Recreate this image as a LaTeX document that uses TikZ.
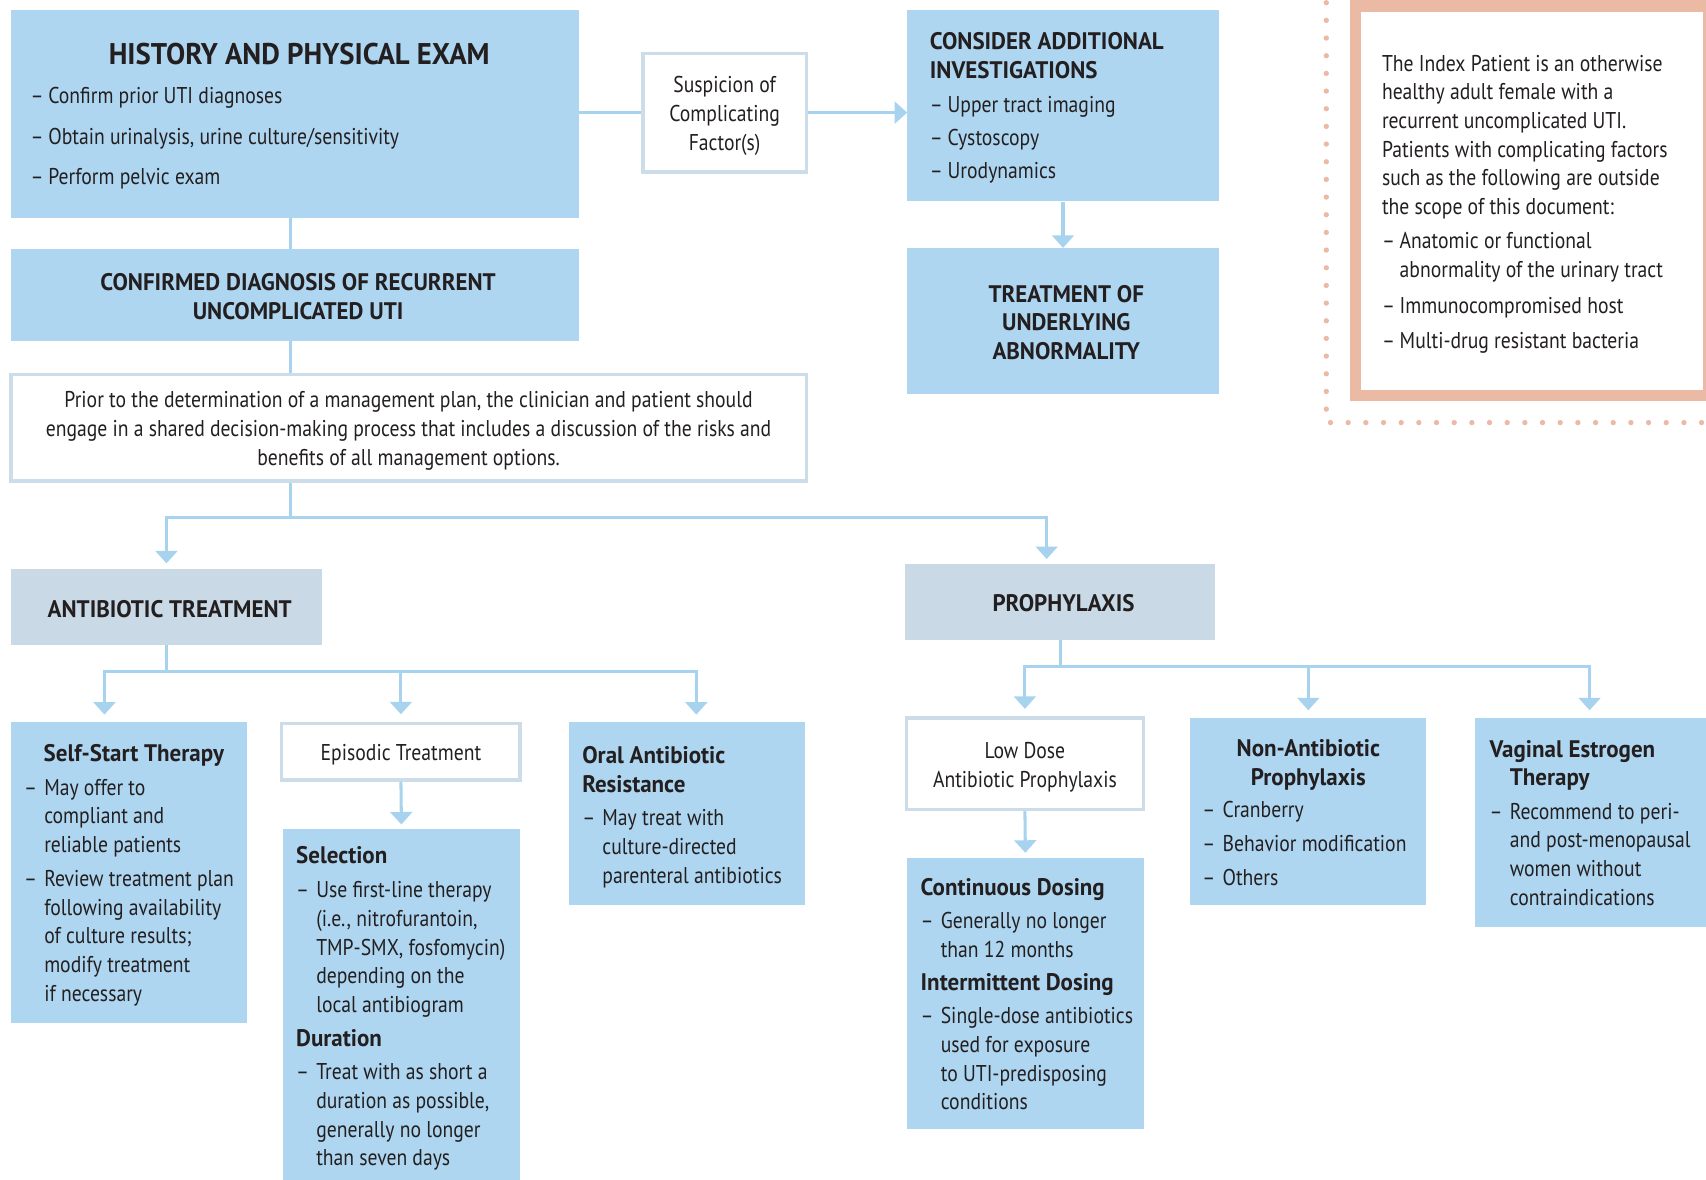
\documentclass[tikz,border=0pt]{standalone}
\usepackage{fontspec}
\setmainfont{PT Sans}[FakeStretch=0.86,BoldFeatures={FakeStretch=0.96}]
\usetikzlibrary{arrows.meta,fit}
\definecolor{boxblue}{RGB}{174,214,240}
\definecolor{hdrblue}{RGB}{201,218,230}
\definecolor{edgeblue}{RGB}{204,220,233}
\definecolor{linkblue}{RGB}{168,211,239}
\definecolor{pinkc}{RGB}{234,186,165}
\definecolor{txtc}{RGB}{35,31,32}
\newlength{\mydashw}\setlength{\mydashw}{18.5pt}
\newlength{\mydashv}\setlength{\mydashv}{16.3pt}
\newcommand{\myd}[1]{\makebox[\mydashw][l]{–}#1}
\newcommand{\myi}[1]{\hspace*{\mydashw}#1}
\newcommand{\mye}[1]{\makebox[\mydashv][l]{–}#1}
\newcommand{\myf}[1]{\hspace*{\mydashv}#1}
\newcommand{\mytitle}[1]{{\fontsize{22}{26.4}\selectfont\bfseries #1}}
\begin{document}
\begin{tikzpicture}[x=1pt,y=-1pt,
  bluebox/.style={fill=boxblue,draw=none,inner sep=0pt},
  hdrbox/.style={fill=hdrblue,draw=none,inner sep=0pt},
  whitebox/.style={fill=white,draw=edgeblue,line width=3pt,inner sep=0pt},
  ctext/.style={inner sep=0pt,text=txtc,align=center,yshift=-3pt,font=\fontsize{21}{26.4}\selectfont},
  cbold/.style={inner sep=0pt,text=txtc,align=center,xshift=3pt,yshift=-1.5pt,font=\fontsize{22}{26.4}\selectfont\bfseries},
  txt/.style={font=\fontsize{21}{26.3}\selectfont,text=txtc,inner sep=0pt,align=left,anchor=north west},
  link/.style={draw=linkblue,line width=2.8pt},
  arrow/.style={link,-{Triangle[width=20pt,length=11.5pt]}},
  dots/.style={draw=pinkc,line width=4.9pt,line cap=round,dash pattern=on 0pt off 16.24pt}]
\useasboundingbox (0,0) rectangle (1568,1084.5);

% ---------- index patient note ----------
\node[fit={(1240.6,0) (1580,369)},fill=pinkc,inner sep=0pt] (idxframe) {};
\node[fit={(1251.3,10.7) (1565,358.6)},fill=white,inner sep=0pt] (idx) {};
\draw[dots] (1219,2.5) -- (1219,388.4) -- (1575,388.4);
\node[txt] (idxT) at (1270,50.5) {The Index Patient is an otherwise\\healthy adult female with a\\recurrent uncomplicated UTI.\\Patients with complicating factors\\such as the following are outside\\the scope of this document:\\[5pt]\mye{Anatomic or functional}\\\myf{abnormality of the urinary tract}\\[7pt]\mye{Immunocompromised host}\\[6pt]\mye{Multi-drug resistant bacteria}};

% ---------- top row ----------
\node[bluebox,fit={(10,9) (532,200)}] (hist) {};
\node[text=txtc,inner sep=0pt,font=\fontsize{27.5}{30}\selectfont\bfseries] (histT) at (275,50) {HISTORY AND PHYSICAL EXAM};
\node[txt] (histB) at (28,80) {\mye{Confirm prior UTI diagnoses}\\[11pt]\mye{Obtain urinalysis, urine culture/sensitivity}\\[11pt]\mye{Perform pelvic exam}};

\node[bluebox,fit={(10,229) (532,313)}] (conf) {};
\node[cbold] (confT) at (conf.center) {CONFIRMED DIAGNOSIS OF RECURRENT\\UNCOMPLICATED UTI};

\node[whitebox,fit={(591,49) (741,158)}] (susp) {};
\node[ctext] (suspT) at (susp.center) {Suspicion of\\Complicating\\Factor(s)};

\node[bluebox,fit={(834,9) (1120,185)}] (cons) {};
\node[txt] (consT) at (854.5,29.5) {\mytitle{CONSIDER ADDITIONAL}\\\mytitle{INVESTIGATIONS}\\[5pt]\mye{Upper tract imaging}\\[4pt]\mye{Cystoscopy}\\[4pt]\mye{Urodynamics}};

\node[bluebox,fit={(834,228) (1120,362)}] (treat) {};
\node[cbold] (treatT) at (treat.center) {TREATMENT OF\\UNDERLYING\\ABNORMALITY};

\node[whitebox,fit={(10,344) (741,442)}] (prior) {};
\node[ctext] (priorT) at (prior.center) {Prior to the determination of a management plan, the clinician and patient should\\engage in a shared decision-making process that includes a discussion of the risks and\\benefits of all management options.};

% ---------- second level ----------
\node[hdrbox,fit={(10,523) (296,593)}] (anti) {};
\node[cbold] (antiT) at (anti.center) {ANTIBIOTIC TREATMENT};
\node[hdrbox,fit={(832,518) (1117,588)}] (proph) {};
\node[cbold] (prophT) at (proph.center) {PROPHYLAXIS};

% ---------- antibiotic branch ----------
\node[bluebox,fit={(10,664) (227,940)}] (self) {};
\node[txt] (selfT) at (40,684) {\mytitle{Self-Start Therapy}};
\node[txt] (selfB) at (22,716) {\myd{May offer to}\\\myi{compliant and}\\\myi{reliable patients}\\[5pt]\myd{Review treatment plan}\\\myi{following availability}\\\myi{of culture results;}\\\myi{modify treatment}\\\myi{if necessary}};

\node[whitebox,fit={(259,665) (478,717)}] (epi) {};
\node[ctext] (epiT) at (epi.center) {Episodic Treatment};

\node[bluebox,fit={(260,762) (478,1092)}] (sel) {};
\node[txt] (selT) at (272,778) {\mytitle{Selection}\\[5pt]\myd{Use first-line therapy}\\\myi{(i.e., nitrofurantoin,}\\\myi{TMP-SMX, fosfomycin)}\\\myi{depending on the}\\\myi{local antibiogram}\\[5pt]\mytitle{Duration}\\[4.5pt]\myd{Treat with as short a}\\\myi{duration as possible,}\\\myi{generally no longer}\\\myi{than seven days}};

\node[bluebox,fit={(523,664) (740,832)}] (oral) {};
\node[txt] (oralT) at (535,686) {\mytitle{Oral Antibiotic}\\\mytitle{Resistance}\\[4.5pt]\myd{May treat with}\\\myi{culture-directed}\\\myi{parenteral antibiotics}};

% ---------- prophylaxis branch ----------
\node[whitebox,fit={(833,660) (1051,744)}] (low) {};
\node[ctext] (lowT) at (low.center) {Low Dose\\Antibiotic Prophylaxis};

\node[bluebox,fit={(834,789) (1051,1038)}] (cont) {};
\node[txt] (contT) at (846,807) {\mytitle{Continuous Dosing}\\[4.5pt]\myd{Generally no longer}\\\myi{than 12 months}\\[4.5pt]\mytitle{Intermittent Dosing}\\[4pt]\myd{Single-dose antibiotics}\\\myi{used for exposure}\\\myi{to UTI-predisposing}\\\myi{conditions}};

\node[bluebox,fit={(1094,660) (1311,832)}] (nonab) {};
\node[cbold,xshift=-2.5pt,yshift=0pt] (nonabT) at (1202,701.5) {Non-Antibiotic\\Prophylaxis};
\node[txt] (nonabB) at (1105,736) {\myd{Cranberry}\\[5pt]\myd{Behavior modification}\\[5pt]\myd{Others}};

\node[bluebox,fit={(1356,660) (1566,852)}] (vag) {};
\node[txt] (vagT) at (1369,680) {\mytitle{Vaginal Estrogen}\\\myi{\mytitle{Therapy}}\\[4.5pt]\myd{Recommend to peri-}\\\myi{and post-menopausal}\\\myi{women without}\\\myi{contraindications}};
\fill[boxblue] (1566,660) rectangle (1570,852);

% ---------- connectors ----------
\draw[link] (susp.west -| hist.east) -- (susp.west);
\draw[arrow] (susp.east) -- (susp.east -| cons.west);
\draw[arrow] (cons.south) -- (treat.north);
\draw[link] ([xshift=-4pt]hist.south) -- ([xshift=-4pt]conf.north);
\draw[link] ([xshift=-4pt]conf.south) -- ([xshift=-4pt]conf.south |- prior.north);
\draw[link] ([xshift=-4pt]conf.south |- prior.south) -- ++(0,32) coordinate (j1);
\draw[arrow,shorten >=5pt] (j1) -| (anti.north);
\draw[arrow,shorten >=4pt] (j1) -| ([xshift=-12.5pt]proph.north);

\draw[link] (anti.south) -- ++(0,24) coordinate (j2);
\draw[arrow,shorten >=7pt] (j2) -| ([xshift=-22.5pt]self.north);
\draw[arrow,shorten >=7pt] (j2) -| (epi.north);
\draw[arrow,shorten >=7pt] (j2) -| ([xshift=8.5pt]oral.north);
\draw[arrow,shorten >=4pt] (epi.south) -- (sel.north);

\draw[link] (proph.south) -- ++(0,24) coordinate (j3);
\draw[arrow,shorten >=7pt] (j3) -| (low.north);
\draw[arrow,shorten >=7pt] (j3) -| (nonab.north);
\draw[arrow,shorten >=7pt] (j3) -| (vag.north);
\draw[arrow,shorten >=5pt] (low.south) -- (cont.north);
\end{tikzpicture}
\end{document}
